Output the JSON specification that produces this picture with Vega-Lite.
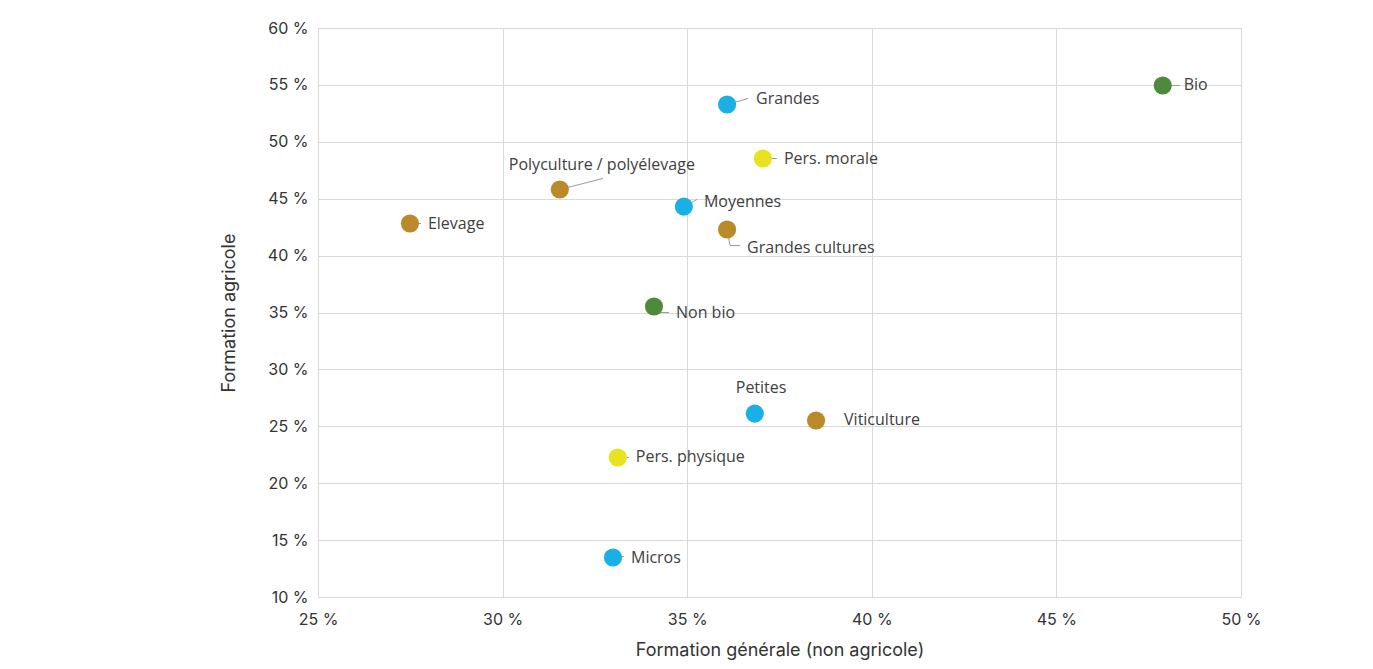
{
  "$schema": "https://vega.github.io/schema/vega-lite/v6.json",
  "autosize": "none",
  "width": 923,
  "height": 569,
  "padding": {"left": 318, "top": 28, "right": 132, "bottom": 72},
  "background": "white",
  "config": {
    "view": {"stroke": "#d9d9d9", "strokeWidth": 1},
    "axis": {
      "gridColor": "#d9d9d9",
      "domainColor": "#d9d9d9",
      "ticks": false,
      "tickSize": 0,
      "labelFont": "Inter",
      "labelFontSize": 16,
      "labelColor": "#333333",
      "titleFont": "Inter",
      "titleFontSize": 18,
      "titleFontWeight": "normal",
      "titleColor": "#333333"
    }
  },
  "data": {
    "values": [
      {"label": "Bio", "groupe": "Agriculture", "general": 47.88, "agricole": 54.95},
      {"label": "Grandes", "groupe": "Taille", "general": 36.08, "agricole": 53.28},
      {"label": "Pers. morale", "groupe": "Statut", "general": 37.05, "agricole": 48.53},
      {"label": "Polyculture / polyélevage", "groupe": "OTEX", "general": 31.55, "agricole": 45.81},
      {"label": "Moyennes", "groupe": "Taille", "general": 34.91, "agricole": 44.31},
      {"label": "Elevage", "groupe": "OTEX", "general": 27.49, "agricole": 42.82},
      {"label": "Grandes cultures", "groupe": "OTEX", "general": 36.08, "agricole": 42.29},
      {"label": "Non bio", "groupe": "Agriculture", "general": 34.10, "agricole": 35.53},
      {"label": "Petites", "groupe": "Taille", "general": 36.83, "agricole": 26.12},
      {"label": "Viticulture", "groupe": "OTEX", "general": 38.49, "agricole": 25.51},
      {"label": "Pers. physique", "groupe": "Statut", "general": 33.12, "agricole": 22.26},
      {"label": "Micros", "groupe": "Taille", "general": 32.99, "agricole": 13.47}
    ]
  },
  "encoding": {
    "x": {
      "field": "general", "type": "quantitative",
      "scale": {"domain": [25, 50], "nice": false, "zero": false},
      "axis": {"values": [25, 30, 35, 40, 45, 50], "labelExpr": "datum.value + ' %'", "title": "Formation générale (non agricole)", "labelPadding": 14, "titlePadding": 14, "domain": true, "labelFlush": false}
    },
    "y": {
      "field": "agricole", "type": "quantitative",
      "scale": {"domain": [10, 60], "nice": false, "zero": false},
      "axis": {"values": [10, 15, 20, 25, 30, 35, 40, 45, 50, 55, 60], "labelExpr": "datum.value + ' %'", "title": "Formation agricole", "labelPadding": 10, "titlePadding": 29, "domain": true}
    }
  },
  "layer": [
    {"transform": [{"filter": "datum.label == 'Bio'"}], "mark": {"type": "rule", "color": "#9a9a9a", "strokeWidth": 1, "x2Offset": 17}, "encoding": {"x2": {"field": "general"}, "y2": {"field": "agricole"}}},
    {"transform": [{"filter": "datum.label == 'Grandes'"}], "mark": {"type": "rule", "color": "#9a9a9a", "strokeWidth": 1, "x2Offset": 21, "y2Offset": -6}, "encoding": {"x2": {"field": "general"}, "y2": {"field": "agricole"}}},
    {"transform": [{"filter": "datum.label == 'Pers. morale'"}], "mark": {"type": "rule", "color": "#9a9a9a", "strokeWidth": 1, "x2Offset": 14}, "encoding": {"x2": {"field": "general"}, "y2": {"field": "agricole"}}},
    {"transform": [{"filter": "datum.label == 'Polyculture / polyélevage'"}], "mark": {"type": "rule", "color": "#9a9a9a", "strokeWidth": 1, "x2Offset": 43, "y2Offset": -11}, "encoding": {"x2": {"field": "general"}, "y2": {"field": "agricole"}}},
    {"transform": [{"filter": "datum.label == 'Moyennes'"}], "mark": {"type": "rule", "color": "#9a9a9a", "strokeWidth": 1, "x2Offset": 13, "y2Offset": -7}, "encoding": {"x2": {"field": "general"}, "y2": {"field": "agricole"}}},
    {"transform": [{"filter": "datum.label == 'Elevage' || datum.label == 'Pers. physique'"}], "mark": {"type": "rule", "color": "#9a9a9a", "strokeWidth": 1, "x2Offset": 11}, "encoding": {"x2": {"field": "general"}, "y2": {"field": "agricole"}}},
    {"transform": [{"filter": "datum.label == 'Micros'"}], "mark": {"type": "rule", "color": "#9a9a9a", "strokeWidth": 1, "x2Offset": 11, "y2Offset": -1}, "encoding": {"x2": {"field": "general"}, "y2": {"field": "agricole"}}},
    {"transform": [{"filter": "datum.label == 'Grandes cultures'"}], "mark": {"type": "rule", "color": "#9a9a9a", "strokeWidth": 1, "x2Offset": 3, "y2Offset": 16}, "encoding": {"x2": {"field": "general"}, "y2": {"field": "agricole"}}},
    {"transform": [{"filter": "datum.label == 'Grandes cultures'"}], "mark": {"type": "rule", "color": "#9a9a9a", "strokeWidth": 1, "xOffset": 3, "yOffset": 16, "x2Offset": 13, "y2Offset": 16}, "encoding": {"x2": {"field": "general"}, "y2": {"field": "agricole"}}},
    {"transform": [{"filter": "datum.label == 'Non bio'"}], "mark": {"type": "rule", "color": "#9a9a9a", "strokeWidth": 1, "x2Offset": 6, "y2Offset": 6}, "encoding": {"x2": {"field": "general"}, "y2": {"field": "agricole"}}},
    {"transform": [{"filter": "datum.label == 'Non bio'"}], "mark": {"type": "rule", "color": "#9a9a9a", "strokeWidth": 1, "xOffset": 6, "yOffset": 6, "x2Offset": 15, "y2Offset": 6}, "encoding": {"x2": {"field": "general"}, "y2": {"field": "agricole"}}},
    {
      "mark": {"type": "circle", "size": 330, "opacity": 1},
      "encoding": {
        "color": {"field": "groupe", "type": "nominal", "legend": null,
          "scale": {"domain": ["Taille", "Agriculture", "OTEX", "Statut"], "range": ["#1ab0e6", "#4d8a3b", "#b88a29", "#e9e21f"]}}
      }
    },
    {"transform": [{"filter": "datum.label == 'Bio' || datum.label == 'Pers. morale'"}], "mark": {"type": "text", "align": "left", "baseline": "middle", "dx": 21, "font": "Open Sans", "fontSize": 16, "color": "#404040"}, "encoding": {"text": {"field": "label"}}},
    {"transform": [{"filter": "datum.label == 'Elevage' || datum.label == 'Pers. physique' || datum.label == 'Micros'"}], "mark": {"type": "text", "align": "left", "baseline": "middle", "dx": 18, "font": "Open Sans", "fontSize": 16, "color": "#404040"}, "encoding": {"text": {"field": "label"}}},
    {"transform": [{"filter": "datum.label == 'Viticulture'"}], "mark": {"type": "text", "align": "left", "baseline": "middle", "dx": 28, "font": "Open Sans", "fontSize": 16, "color": "#404040"}, "encoding": {"text": {"field": "label"}}},
    {"transform": [{"filter": "datum.label == 'Grandes'"}], "mark": {"type": "text", "align": "left", "baseline": "middle", "dx": 29, "dy": -5, "font": "Open Sans", "fontSize": 16, "color": "#404040"}, "encoding": {"text": {"field": "label"}}},
    {"transform": [{"filter": "datum.label == 'Moyennes'"}], "mark": {"type": "text", "align": "left", "baseline": "middle", "dx": 20, "dy": -5, "font": "Open Sans", "fontSize": 16, "color": "#404040"}, "encoding": {"text": {"field": "label"}}},
    {"transform": [{"filter": "datum.label == 'Grandes cultures'"}], "mark": {"type": "text", "align": "left", "baseline": "middle", "dx": 20, "dy": 18, "font": "Open Sans", "fontSize": 16, "color": "#404040"}, "encoding": {"text": {"field": "label"}}},
    {"transform": [{"filter": "datum.label == 'Non bio'"}], "mark": {"type": "text", "align": "left", "baseline": "middle", "dx": 22, "dy": 7, "font": "Open Sans", "fontSize": 16, "color": "#404040"}, "encoding": {"text": {"field": "label"}}},
    {"transform": [{"filter": "datum.label == 'Polyculture / polyélevage'"}], "mark": {"type": "text", "align": "left", "baseline": "middle", "dx": -51, "dy": -24, "font": "Open Sans", "fontSize": 16, "color": "#404040"}, "encoding": {"text": {"field": "label"}}},
    {"transform": [{"filter": "datum.label == 'Petites'"}], "mark": {"type": "text", "align": "left", "baseline": "middle", "dx": -19, "dy": -26, "font": "Open Sans", "fontSize": 16, "color": "#404040"}, "encoding": {"text": {"field": "label"}}}
  ]
}
